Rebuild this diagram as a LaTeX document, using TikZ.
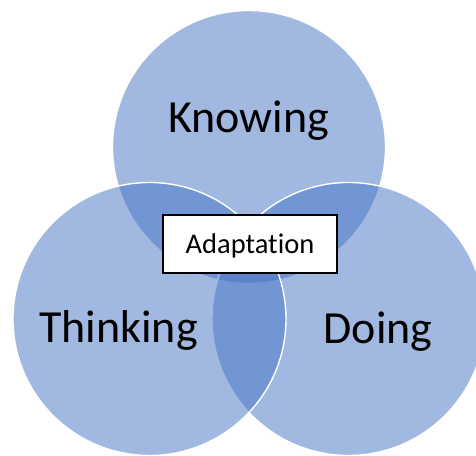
\documentclass[tikz,border=0pt]{standalone}
\usepackage{fontspec}
\setmainfont{Carlito}[Ligatures=NoCommon]
\definecolor{vennblue}{RGB}{68,114,196}
\begin{document}
\begin{tikzpicture}[x=1pt,y=1pt,
  venn/.style={circle, minimum size=273pt, inner sep=0pt,
    fill=vennblue, fill opacity=0.5, draw=white, line width=1.4pt},
  biglabel/.style={anchor=base, inner sep=0pt, font=\fontsize{46}{50}\selectfont},
  centerbox/.style={draw=black, fill=white, line width=1.1pt, minimum width=174pt,
    minimum height=58pt, inner sep=0pt}
]
\useasboundingbox (0,0) rectangle (476,455);
% three overlapping sets
\node[venn] (know) at (249,308) {};
\node[venn] (do)   at (348.5,136) {};
\node[venn] (think) at (149.5,136) {};
% set labels
\node[biglabel] (knowlbl) at (248.5,322) {Knowing};
\node[biglabel] (thinklbl) at (118.5,112) {Thinking};
\node[biglabel] (dolbl) at (378,111) {Doing};
% common area
\node[centerbox] (adapt) at (250,211) {};
\node[anchor=base, inner sep=0pt, font=\fontsize{28.5}{32}\selectfont] (adaptlbl) at (250,201) {Adaptation};
\end{tikzpicture}
\end{document}
